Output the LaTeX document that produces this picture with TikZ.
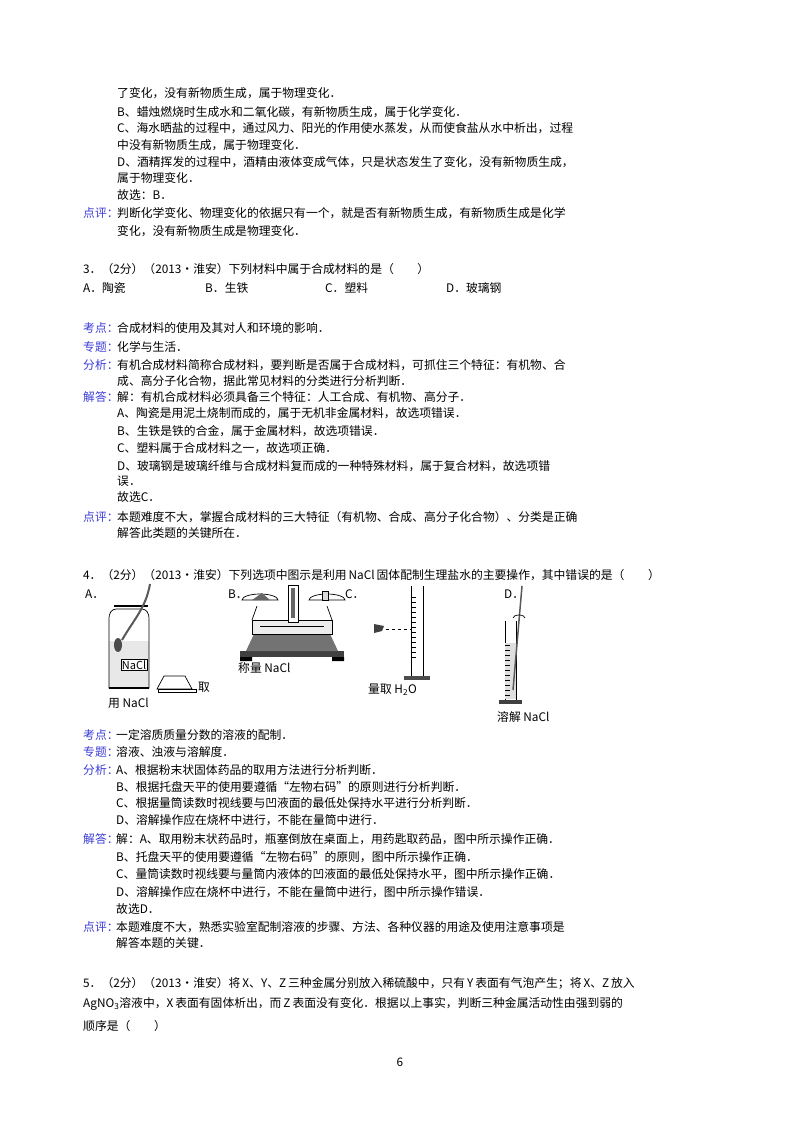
\documentclass[tikz,border=0pt]{standalone}
\usepackage{fontspec}
\setmainfont{Noto Sans CJK SC}
\definecolor{lab}{RGB}{60,60,215}
\begin{document}
\begin{tikzpicture}[x=1pt,y=-1pt,
  tx/.style={anchor=west,inner sep=0pt,font=\fontsize{11.8}{14}\selectfont},
  lb/.style={tx,text=lab},
  thin/.style={line width=0.7pt}]
\useasboundingbox (0,0) rectangle (800,1132);
\fill[white] (0,0) rectangle (800,1132);
% --- top part
\node[tx] (l1) at (117,93) {了变化，没有新物质生成，属于物理变化．};
\node[tx] (l2) at (117,112) {B、蜡烛燃烧时生成水和二氧化碳，有新物质生成，属于化学变化．};
\node[tx] (l3) at (117,128) {C、海水晒盐的过程中，通过风力、阳光的作用使水蒸发，从而使食盐从水中析出，过程};
\node[tx] (l4) at (117,145) {中没有新物质生成，属于物理变化．};
\node[tx] (l5) at (117,162) {D、酒精挥发的过程中，酒精由液体变成气体，只是状态发生了变化，没有新物质生成，};
\node[tx] (l6) at (117,178) {属于物理变化．};
\node[tx] (l7) at (117,195) {故选：B．};
\node[lb] (p1) at (83,213) {点评：};
\node[tx] (l8) at (117,213) {判断化学变化、物理变化的依据只有一个，就是否有新物质生成，有新物质生成是化学};
\node[tx] (l9) at (117,231) {变化，没有新物质生成是物理变化．};
% --- Q3
\node[tx] (q3) at (83,269) {3．（2分）（2013•淮安）下列材料中属于合成材料的是（　　）};
\node[tx] (q3a) at (83,288) {A．陶瓷};
\node[tx] (q3b) at (205,288) {B．生铁};
\node[tx] (q3c) at (325,288) {C．塑料};
\node[tx] (q3d) at (446,288) {D．玻璃钢};
\node[lb] (k3) at (83,328) {考点：};
\node[tx] at (117,328) {合成材料的使用及其对人和环境的影响．};
\node[lb] (z3) at (83,347) {专题：};
\node[tx] at (117,347) {化学与生活．};
\node[lb] (f3) at (83,365) {分析：};
\node[tx] at (117,365) {有机合成材料简称合成材料，要判断是否属于合成材料，可抓住三个特征：有机物、合};
\node[tx] at (117,381) {成、高分子化合物，据此常见材料的分类进行分析判断．};
\node[lb] (j3) at (83,397) {解答：};
\node[tx] at (117,397) {解：有机合成材料必须具备三个特征：人工合成、有机物、高分子．};
\node[tx] at (117,413) {A、陶瓷是用泥土烧制而成的，属于无机非金属材料，故选项错误．};
\node[tx] at (117,431) {B、生铁是铁的合金，属于金属材料，故选项错误．};
\node[tx] at (117,448) {C、塑料属于合成材料之一，故选项正确．};
\node[tx] at (117,466) {D、玻璃钢是玻璃纤维与合成材料复而成的一种特殊材料，属于复合材料，故选项错};
\node[tx] at (117,481) {误．};
\node[tx] at (117,497) {故选C．};
\node[lb] (d3) at (83,517) {点评：};
\node[tx] at (117,517) {本题难度不大，掌握合成材料的三大特征（有机物、合成、高分子化合物）、分类是正确};
\node[tx] at (117,533) {解答此类题的关键所在．};
% --- Q4
\node[tx] (q4) at (83,575) {4．（2分）（2013•淮安）下列选项中图示是利用\,NaCl\,固体配制生理盐水的主要操作，其中错误的是（　　）};
\node[tx] (fa) at (85,594) {A．};
\node[tx] (fb) at (228,594) {B．};
\node[tx] (fc) at (345,594) {C．};
\node[tx] (fd) at (504,594) {D．};
% A: bottle
\fill[gray!18] (109,641) rectangle (149,688);
\draw[thin] (109,688) -- (109,618) to[out=90,in=180] (116,609) -- (142,609) to[out=0,in=90] (149,618) -- (149,688) -- cycle;
\draw[line width=1.8pt] (114,606) -- (148,606);
\draw[line width=2pt] (109,688) -- (149,688);
\node[draw,thin,fill=white,inner sep=1pt,font=\fontsize{11}{12}\selectfont] (nacl) at (134,665) {NaCl};
\draw[line width=2pt,gray!70!black] (150,584) to[out=260,in=60] (122,640);
\fill[black!70] (118,645) ellipse (4 and 7);
\draw[thin] (157,689) -- (164,676) -- (185,676) -- (192,689) -- cycle;
\draw[thin] (158,689) rectangle (196,692);
\node[tx] (qu) at (198,687) {取};
\node[tx] (yong) at (108,703) {用 NaCl};
% B: balance
\fill[black!75] (240,657) rectangle (344,651);
\fill[black!55] (246,651) -- (338,651) -- (330,634) -- (254,634) -- cycle;
\draw[thin,fill=gray!15] (252,634) rectangle (332,620);
\draw[thin] (260,626) -- (324,626);
\fill[black] (240,657) rectangle (252,661) (332,657) rectangle (344,661);
\draw[thin,fill=white] (288,585) rectangle (298,622);
\fill[black!60] (291,588) rectangle (295,618);
\draw[thin] (252,620) -- (257,606) (332,620) -- (327,606);
\draw[thin,fill=white] (242,600) arc (180:360:18 and 6) -- cycle;
\draw[thin,fill=white] (309,600) arc (180:360:18 and 6) -- cycle;
\fill[black!60] (252,600) -- (262,593) -- (270,600) -- cycle;
\draw[thin,fill=gray!30] (322,591) rectangle (328,600);
\node[tx] (cheng) at (238,668) {称量 NaCl};
% C: cylinder
\draw[thin] (411,586) -- (411,676) (423,586) -- (423,676);
\draw[thin] (411,676) -- (423,676);
\fill[black!70] (404,676) rectangle (430,680);
\foreach \yy in {597,602,...,660} {\draw[line width=0.4pt] (411,\yy) -- (416,\yy);}
\fill[black!75] (374,624) -- (384,626) -- (382,631) -- (374,633) -- cycle;
\draw[dashed,thin] (386,629) -- (411,629);
\node[tx] (liang) at (368,690) {量取 H\textsubscript{2}O};
% D: cylinder with rod
\draw[thin] (505,621) -- (505,700) (516,621) -- (516,700);
\fill[gray!25] (505,643) rectangle (516,699);
\foreach \yy in {645,650,...,695} {\draw[line width=0.4pt] (505,\yy) -- (510,\yy);}
\fill[black!75] (499,700) rectangle (522,704);
\draw[line width=1.5pt,gray!70!black] (522,586) -- (513,690);
\draw[thin] (513,618) arc (180:360:6 and 3);
\node[tx] (rongjie) at (497,717) {溶解 NaCl};
% --- analysis Q4
\node[lb] (k4) at (83,735) {考点：};
\node[tx] at (116,735) {一定溶质质量分数的溶液的配制．};
\node[lb] (z4) at (83,752) {专题：};
\node[tx] at (116,752) {溶液、浊液与溶解度．};
\node[lb] (f4) at (83,770) {分析：};
\node[tx] at (116,770) {A、根据粉末状固体药品的取用方法进行分析判断．};
\node[tx] at (116,787) {B、根据托盘天平的使用要遵循“左物右码”的原则进行分析判断．};
\node[tx] at (116,803) {C、根据量筒读数时视线要与凹液面的最低处保持水平进行分析判断．};
\node[tx] at (116,820) {D、溶解操作应在烧杯中进行，不能在量筒中进行．};
\node[lb] (j4) at (83,839) {解答：};
\node[tx] at (116,839) {解：A、取用粉末状药品时，瓶塞倒放在桌面上，用药匙取药品，图中所示操作正确．};
\node[tx] at (116,857) {B、托盘天平的使用要遵循“左物右码”的原则，图中所示操作正确．};
\node[tx] at (116,874) {C、量筒读数时视线要与量筒内液体的凹液面的最低处保持水平，图中所示操作正确．};
\node[tx] at (116,892) {D、溶解操作应在烧杯中进行，不能在量筒中进行，图中所示操作错误．};
\node[tx] at (116,909) {故选D．};
\node[lb] (d4) at (83,927) {点评：};
\node[tx] at (116,927) {本题难度不大，熟悉实验室配制溶液的步骤、方法、各种仪器的用途及使用注意事项是};
\node[tx] at (116,943) {解答本题的关键．};
% --- Q5
\node[tx] (q5) at (83,983) {5．（2分）（2013•淮安）将\,X、Y、Z\,三种金属分别放入稀硫酸中，只有\,Y\,表面有气泡产生；将\,X、Z\,放入};
\node[tx] (q5b) at (83,1004) {AgNO\textsubscript{3}溶液中，X\,表面有固体析出，而\,Z\,表面没有变化．根据以上事实，判断三种金属活动性由强到弱的};
\node[tx] (q5c) at (83,1026) {顺序是（　　）};
\node[tx,anchor=center] (pg) at (400,1062) {6};
\end{tikzpicture}
\end{document}
